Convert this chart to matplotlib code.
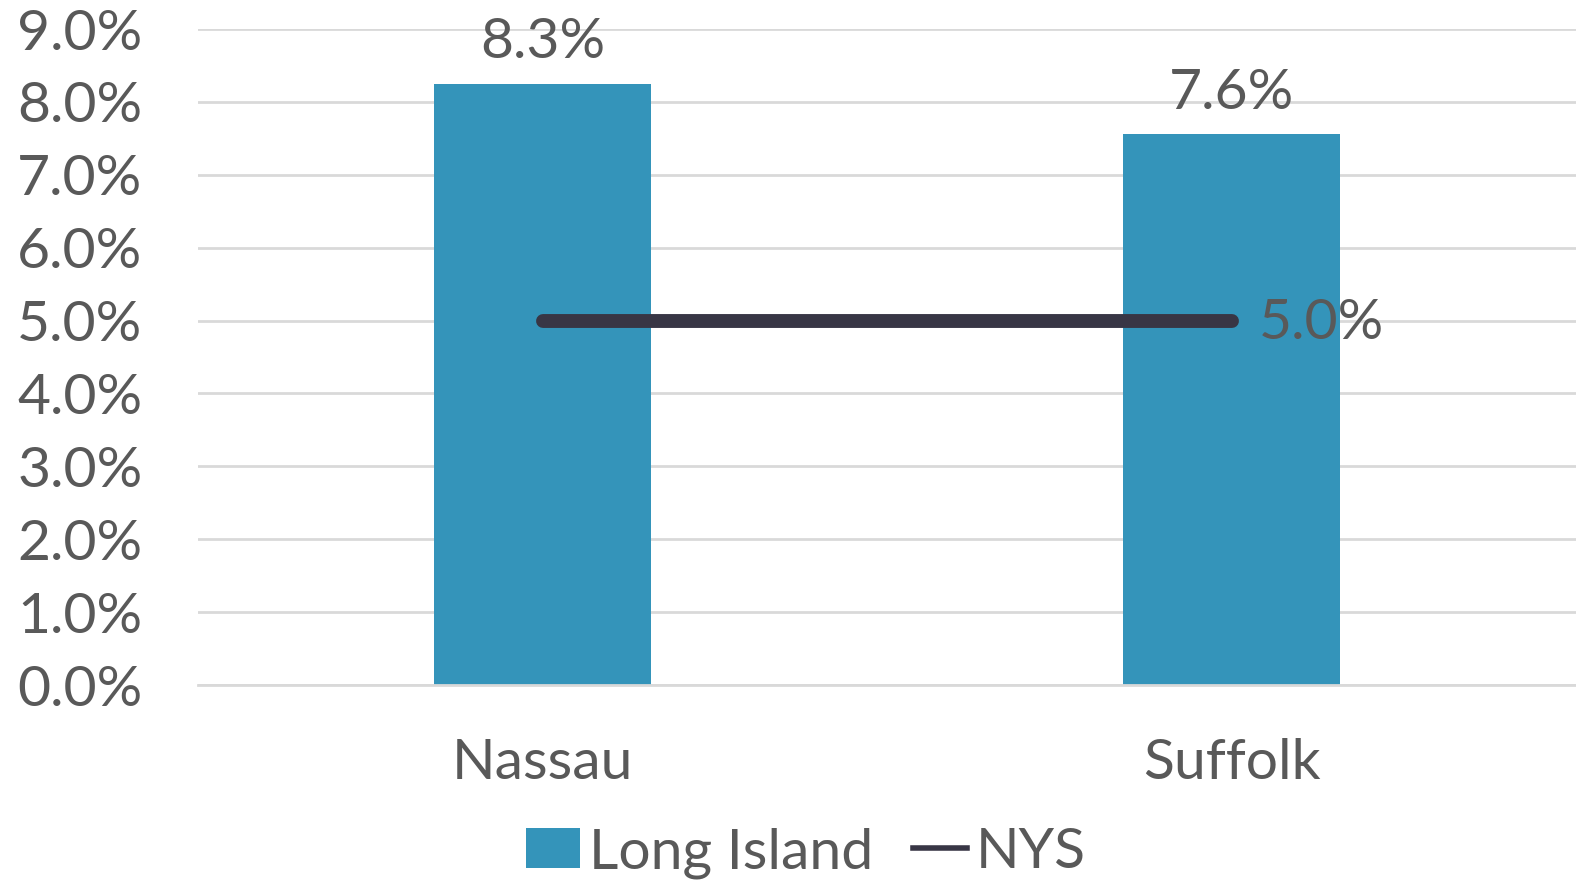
import matplotlib
matplotlib.use("Agg")
import matplotlib.pyplot as plt
from matplotlib.lines import Line2D
from matplotlib.patches import Patch

categories = ["Nassau", "Suffolk"]
long_island = [8.25, 7.56]
long_island_labels = ["8.3%", "7.6%"]
nys = [5.0, 5.0]
nys_label = "5.0%"
yticks = [0, 1, 2, 3, 4, 5, 6, 7, 8, 9]
ytick_labels = ["0.0%", "1.0%", "2.0%", "3.0%", "4.0%", "5.0%", "6.0%", "7.0%", "8.0%", "9.0%"]

plt.rcParams['font.family'] = ['Lato', 'DejaVu Sans']
TXT = "#595959"
BAR = "#3494BA"
LINE = "#383645"
GRID = "#D9D9D9"
FS = 41

fig = plt.figure(figsize=(15.76, 8.81), dpi=100)
ax = fig.add_axes([198/1576, (881-685)/881, (1576-198)/1576, (685-29)/881])

x = list(range(len(categories)))
bars = ax.bar(x, long_island, width=0.315, color=BAR, zorder=2)
ax.plot(x, nys, color=LINE, lw=10, solid_capstyle='round', zorder=3)

for xi, v, lab in zip(x, long_island, long_island_labels):
    ax.annotate(lab, (xi, v), xytext=(0, 11), textcoords='offset points',
                ha='center', va='bottom', fontsize=FS, color=TXT)
ax.annotate(nys_label, (x[-1], nys[-1]), xytext=(20, -2), textcoords='offset points',
            ha='left', va='center', fontsize=FS, color=TXT, zorder=4)

ax.set_xlim(-0.5, 1.5)
ax.set_ylim(0, 9)
ax.set_yticks(yticks)
ax.set_yticklabels(ytick_labels)
ax.set_xticks(x)
ax.set_xticklabels(categories)
ax.tick_params(axis='y', length=0, pad=40, labelsize=FS, labelcolor=TXT)
ax.tick_params(axis='x', length=0, pad=38, labelsize=FS, labelcolor=TXT)
ax.yaxis.grid(True, color=GRID, lw=2, zorder=0)
ax.set_axisbelow(True)
for s in ['top', 'right', 'left']:
    ax.spines[s].set_visible(False)
ax.spines['bottom'].set_color(GRID)
ax.spines['bottom'].set_linewidth(2)

handles = [Patch(facecolor=BAR, edgecolor='none', label='Long Island'),
           Line2D([0], [0], color=LINE, lw=4, label='NYS')]
fig.legend(handles=handles, loc='center', bbox_to_anchor=(806/1576, 1-853/881),
           ncol=2, frameon=False, fontsize=FS, labelcolor=TXT,
           handlelength=0.95, handleheight=0.7, handletextpad=0.15, columnspacing=0.7)

fig.savefig("out.png", dpi=100)
